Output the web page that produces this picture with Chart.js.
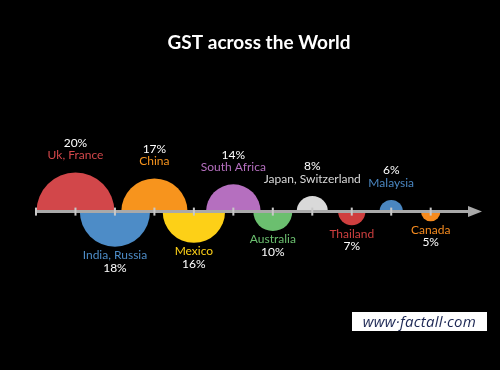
<!DOCTYPE html>
<html>
<head>
<meta charset="utf-8">
<script src="https://cdn.jsdelivr.net/npm/chart.js@4/dist/chart.umd.min.js"></script>
<style>
  html, body { margin: 0; padding: 0; background: #000; }
  #wrap { position: relative; width: 500px; height: 370px; background: #000; }
  #c { display: block; }
  #mark { position: absolute; left: 352px; top: 312px; width: 135px; height: 19px;
          background: #fff; color: #1c2754; font: italic 15px "Open Sans", sans-serif;
          line-height: 19px; text-align: center; letter-spacing: 0.3px; }
</style>
</head>
<body>
<div id="wrap">
  <canvas id="c" width="500" height="370"></canvas>
  <div id="mark">www·factall·com</div>
</div>
<script>
const countries = ['Uk, France', 'India, Russia', 'China', 'Mexico', 'South Africa',
                   'Australia', 'Japan, Switzerland', 'Thailand', 'Malaysia', 'Canada'];
const gstRates = [20, 18, 17, 16, 14, 10, 8, 7, 6, 5];
const positions = [1, 2, 3, 4, 5, 6, 7, 8, 9, 10];
const sides = ['above', 'below', 'above', 'below', 'above', 'below', 'above', 'below', 'above', 'below'];
const bubbleColors = ['#d2474a', '#4d8cc7', '#f7941d', '#fdd017', '#b56fbf',
                      '#6bbf6f', '#d9d9d9', '#cf3f3f', '#4a86c0', '#f58b1f'];
const nameColors = ['#d2474a', '#4d8cc7', '#f7941d', '#fdd017', '#b56fbf',
                    '#6bbf6f', '#d9d9d9', '#cf3f3f', '#4a86c0', '#f58b1f'];
const axisTicks = [0, 1, 2, 3, 4, 5, 6, 7, 8, 9, 10];

const RADIUS_PER_PCT = 1.95;

function buildPoints(side) {
  const pts = [];
  countries.forEach((n, i) => {
    if (sides[i] === side) pts.push({ x: positions[i], y: 0, r: gstRates[i] * RADIUS_PER_PCT, idx: i });
  });
  return pts;
}
const abovePts = buildPoints('above');
const belowPts = buildPoints('below');

const halfClip = {
  id: 'halfClip',
  beforeDatasetDraw(chart, args) {
    const ctx = chart.ctx;
    const y0 = chart.scales.y.getPixelForValue(0);
    ctx.save();
    ctx.beginPath();
    if (args.index === 0) ctx.rect(0, 0, chart.width, y0);
    else ctx.rect(0, y0, chart.width, chart.height - y0);
    ctx.clip();
  },
  afterDatasetDraw(chart) {
    chart.ctx.restore();
  }
};

const axisArrow = {
  id: 'axisArrow',
  afterDatasetsDraw(chart) {
    const ctx = chart.ctx;
    const xs = chart.scales.x, ys = chart.scales.y;
    const y0 = ys.getPixelForValue(0);
    const x0 = xs.getPixelForValue(axisTicks[0]);
    const xEnd = chart.chartArea.right;
    ctx.save();
    ctx.strokeStyle = '#a9a9a9';
    ctx.lineWidth = 3;
    ctx.beginPath();
    ctx.moveTo(x0, y0);
    ctx.lineTo(xEnd - 10, y0);
    ctx.stroke();
    ctx.fillStyle = '#a9a9a9';
    ctx.beginPath();
    ctx.moveTo(xEnd, y0);
    ctx.lineTo(xEnd - 14, y0 - 5.5);
    ctx.lineTo(xEnd - 14, y0 + 5.5);
    ctx.closePath();
    ctx.fill();
    ctx.fillStyle = '#c8c8c8';
    axisTicks.forEach(t => {
      const px = xs.getPixelForValue(t);
      ctx.fillRect(px - 1, y0 - 4, 2, 8);
    });
    ctx.restore();
  }
};

const bubbleLabels = {
  id: 'bubbleLabels',
  afterDatasetsDraw(chart) {
    const ctx = chart.ctx;
    ctx.save();
    ctx.font = '12px Lato, sans-serif';
    ctx.textAlign = 'center';
    ctx.textBaseline = 'middle';
    chart.data.datasets.forEach((ds, di) => {
      const meta = chart.getDatasetMeta(di);
      meta.data.forEach((el, j) => {
        const p = ds.data[j];
        const i = p.idx;
        const r = p.r;
        const name = countries[i];
        const pct = gstRates[i] + '%';
        if (sides[i] === 'above') {
          const top = el.y - r;
          ctx.fillStyle = nameColors[i];
          ctx.fillText(name, el.x, top - 17);
          ctx.fillStyle = '#ffffff';
          ctx.fillText(pct, el.x, top - 29.5);
        } else {
          const bot = el.y + r;
          ctx.fillStyle = nameColors[i];
          ctx.fillText(name, el.x, bot + 8.5);
          ctx.fillStyle = '#ffffff';
          ctx.fillText(pct, el.x, bot + 21);
        }
      });
    });
    ctx.restore();
  }
};

new Chart(document.getElementById('c'), {
  type: 'bubble',
  data: {
    datasets: [
      { label: 'above', data: abovePts, backgroundColor: abovePts.map(p => bubbleColors[p.idx]), borderWidth: 0, clip: false },
      { label: 'below', data: belowPts, backgroundColor: belowPts.map(p => bubbleColors[p.idx]), borderWidth: 0, clip: false }
    ]
  },
  options: {
    responsive: false,
    animation: false,
    events: [],
    layout: { autoPadding: false, padding: { left: 36, right: 18, top: 0, bottom: 10.6 } },
    scales: {
      x: { type: 'linear', min: 0, max: 11.3, display: false },
      y: { type: 'linear', min: -1, max: 1, display: false }
    },
    plugins: {
      legend: { display: false },
      tooltip: { enabled: false },
      title: {
        display: true,
        text: 'GST across the World',
        color: '#ffffff',
        font: { family: 'Lato, sans-serif', size: 19, weight: 'bold' },
        padding: { top: 31, bottom: 10 }
      }
    }
  },
  plugins: [halfClip, axisArrow, bubbleLabels]
});
</script>
</body>
</html>
